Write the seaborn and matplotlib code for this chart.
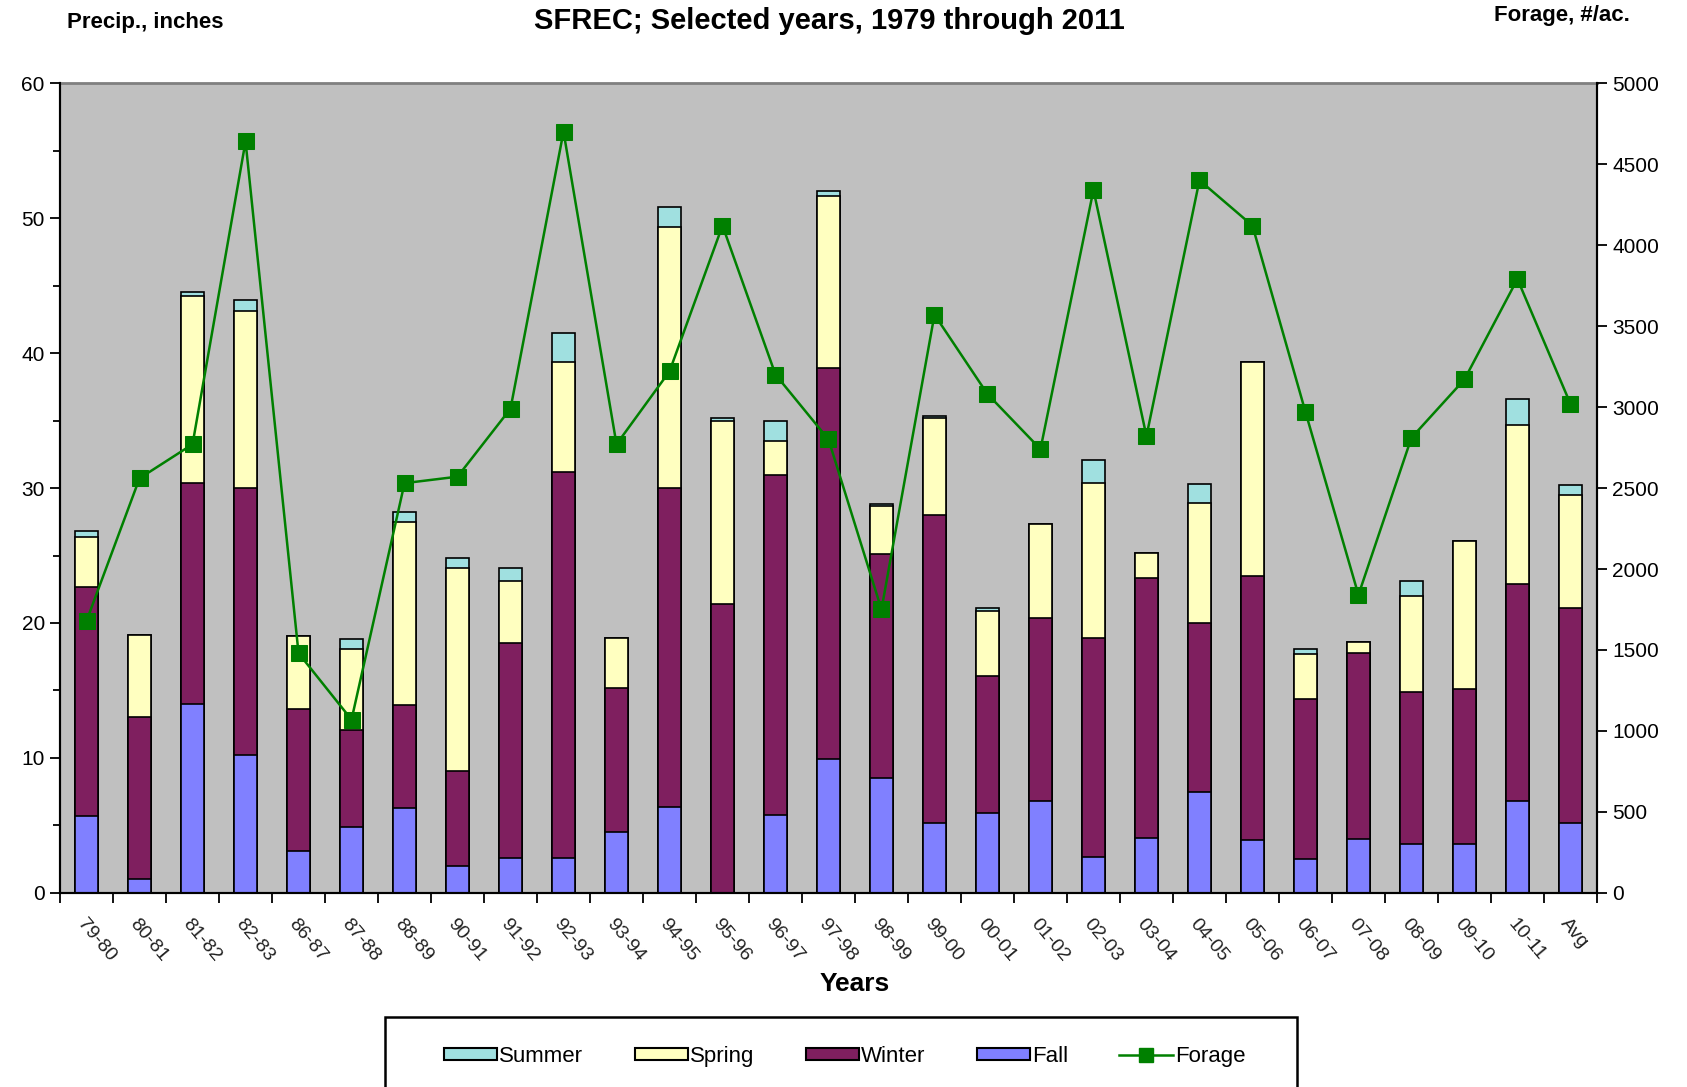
import numpy as np
import pandas as pd
import matplotlib
matplotlib.use("Agg")
import matplotlib.pyplot as plt
import seaborn as sns
from matplotlib.patches import Patch, Rectangle
from matplotlib.lines import Line2D
from matplotlib.ticker import MultipleLocator, FixedLocator

years = ["79-80", "80-81", "81-82", "82-83", "86-87", "87-88", "88-89", "90-91", "91-92",
         "92-93", "93-94", "94-95", "95-96", "96-97", "97-98", "98-99", "99-00", "00-01",
         "01-02", "02-03", "03-04", "04-05", "05-06", "06-07", "07-08", "08-09", "09-10",
         "10-11", "Avg"]
fall = [5.7, 1.0, 14.0, 10.2, 3.1, 4.9, 6.3, 2.0, 2.6, 2.6, 4.5, 6.4, 0.0, 5.8, 9.9, 8.5,
        5.2, 5.9, 6.8, 2.7, 4.1, 7.5, 3.9, 2.5, 4.0, 3.6, 3.6, 6.8, 5.2]
winter = [17.0, 12.0, 16.4, 19.8, 10.5, 7.2, 7.6, 7.0, 15.9, 28.6, 10.7, 23.6, 21.4, 25.2,
          29.0, 16.6, 22.8, 10.2, 13.6, 16.2, 19.2, 12.5, 19.6, 11.9, 13.8, 11.3, 11.5, 16.1, 15.9]
spring = [3.7, 6.1, 13.8, 13.1, 5.4, 6.0, 13.6, 15.1, 4.6, 8.1, 3.7, 19.3, 13.6, 2.5, 12.7,
          3.6, 7.2, 4.8, 6.9, 11.5, 1.9, 8.9, 15.8, 3.3, 0.8, 7.1, 11.0, 11.8, 8.4]
summer = [0.4, 0.0, 0.3, 0.8, 0.0, 0.7, 0.7, 0.7, 1.0, 2.2, 0.0, 1.5, 0.2, 1.5, 0.4, 0.1,
          0.1, 0.2, 0.0, 1.7, 0.0, 1.4, 0.0, 0.4, 0.0, 1.1, 0.0, 1.9, 0.7]
forage = [1680, 2560, 2770, 4640, 1480, 1070, 2530, 2570, 2990, 4700, 2770, 3220, 4120, 3200,
          2800, 1750, 3570, 3080, 2740, 4340, 2820, 4400, 4120, 2970, 1840, 2810, 3170, 3790, 3020]

df = pd.DataFrame({"Year": years, "Fall": fall, "Winter": winter,
                   "Spring": spring, "Summer": summer, "Forage": forage})
df["c_fall"] = df["Fall"]
df["c_winter"] = df["c_fall"] + df["Winter"]
df["c_spring"] = df["c_winter"] + df["Spring"]
df["c_summer"] = df["c_spring"] + df["Summer"]

colors = {"Summer": "#A0E0E0", "Spring": "#FFFFC0", "Winter": "#7F1F5F", "Fall": "#8080FF"}
FONT = "Liberation Sans"
plt.rcParams["font.family"] = [FONT, "DejaVu Sans"]

fig = plt.figure(figsize=(16.87, 10.87), dpi=100)
ax = fig.add_axes([0.0356, 0.1785, 0.911, 0.7451])
ax.set_facecolor("#C0C0C0")

bw = 0.44
for col, name in [("c_summer", "Summer"), ("c_spring", "Spring"),
                  ("c_winter", "Winter"), ("c_fall", "Fall")]:
    sns.barplot(data=df, x="Year", y=col, color=colors[name], saturation=1,
                width=bw, edgecolor="black", linewidth=1.2, ax=ax, errorbar=None)

ax.set_ylim(0, 60)
ax.set_xlim(-0.5, len(years) - 0.5)
ax.yaxis.set_major_locator(MultipleLocator(10))
ax.yaxis.set_minor_locator(MultipleLocator(5))
ax.tick_params(axis="y", which="major", length=7, width=1.3, labelsize=15, pad=4)
ax.tick_params(axis="y", which="minor", length=5, width=1.3)
ax.set_ylabel("")
ax.set_xlabel("Years", fontsize=19, fontweight="bold", labelpad=6)
ax.xaxis.set_label_coords(0.517, -0.098)

ax.xaxis.set_major_locator(FixedLocator(np.arange(len(years))))
ax.set_xticklabels(years, rotation=-50, ha="left", va="top", rotation_mode="anchor",
                   fontsize=14, color="#222222")
ax.xaxis.set_minor_locator(FixedLocator(np.arange(len(years) + 1) - 0.5))
ax.tick_params(axis="x", which="major", length=0, pad=16)
ax.tick_params(axis="x", which="minor", length=7, width=1.3)

for s in ["left", "bottom", "right"]:
    ax.spines[s].set_color("black")
    ax.spines[s].set_linewidth(1.5)
ax.spines["top"].set_color("#808080")
ax.spines["top"].set_linewidth(2)

ax2 = ax.twinx()
sns.lineplot(x=np.arange(len(years)), y=df["Forage"], ax=ax2, color="#008000",
             marker="s", markersize=11, markeredgecolor="#008000", linewidth=1.8, sort=False)
ax2.set_ylim(0, 5000)
ax2.yaxis.set_major_locator(MultipleLocator(500))
ax2.tick_params(axis="y", length=7, width=1.3, labelsize=15, pad=4)
ax2.set_ylabel("")
for s in ["left", "bottom", "right"]:
    ax2.spines[s].set_color("black")
    ax2.spines[s].set_linewidth(1.5)
ax2.spines["top"].set_visible(False)
ax2.set_xlim(-0.5, len(years) - 0.5)

fig.text(0.4915, 0.981, "SFREC; Selected years, 1979 through 2011", ha="center", va="center",
         fontsize=21, fontweight="bold")
fig.text(0.040, 0.979, "Precip., inches", ha="left", va="center", fontsize=16, fontweight="bold")
fig.text(0.966, 0.986, "Forage, #/ac.", ha="right", va="center", fontsize=16, fontweight="bold")

handles = [Patch(facecolor=colors["Summer"], edgecolor="black", linewidth=1.5),
           Patch(facecolor=colors["Spring"], edgecolor="black", linewidth=1.5),
           Patch(facecolor=colors["Winter"], edgecolor="black", linewidth=1.5),
           Patch(facecolor=colors["Fall"], edgecolor="black", linewidth=1.5),
           Line2D([], [], color="#008000", marker="s", markersize=10, linewidth=1.8)]
labels = ["Summer", "Spring", "Winter", "Fall", "Forage"]
fig.legend(handles, labels, loc="center", bbox_to_anchor=(0.5007, 0.0285), ncol=5,
           frameon=False, fontsize=16, handlelength=2.4, handleheight=0.45,
           handletextpad=0.1, columnspacing=2.3)
fig.patches.append(Rectangle((385 / 1687, -0.05), 912 / 1687, 0.0644 + 0.05,
                             transform=fig.transFigure, facecolor="none",
                             edgecolor="black", linewidth=1.8))

fig.savefig("out.png", dpi=100)
